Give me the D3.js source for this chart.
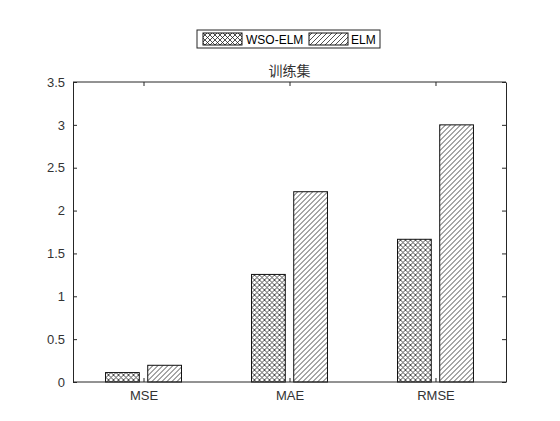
<!DOCTYPE html>
<html lang="zh">
<head>
  <meta charset="UTF-8">
  <script src="https://d3js.org/d3.v7.min.js"></script>
  <title>训练集</title>
  <style>
  body { margin:0; background:#fff; }
  svg { display:block; }
  .tick text { font-family: "Liberation Sans", Arial, sans-serif; font-size: 13px; fill:#333; }
  </style>
</head>
<body>
<svg id="chart" width="560" height="421"></svg>
<script>
  // data
  const categories = ["MSE", "MAE", "RMSE"];
  const seriesNames = ["WSO-ELM", "ELM"];
  const wsoElm = [0.11, 1.255, 1.665];
  const elm = [0.195, 2.22, 3.0];
  const yTicks = [0, 0.5, 1, 1.5, 2, 2.5, 3, 3.5];
  const title = "训练集";

  const svg = d3.select("svg#chart");
  const margin = {top: 82, right: 54, bottom: 39, left: 73};
  const width = +svg.attr("width");
  const height = +svg.attr("height");
  const x0 = margin.left, x1 = width - margin.right;
  const y0 = height - margin.bottom, y1 = margin.top;
  const ink = "#262626";

  // hatch patterns
  const defs = svg.append("defs");
  const cross = defs.append("pattern").attr("id","cross")
      .attr("patternUnits","userSpaceOnUse").attr("width",5).attr("height",5);
  cross.append("rect").attr("width",5).attr("height",5).attr("fill","#fff");
  cross.append("path").attr("d","M0,0L5,5M5,0L0,5M-1,4L1,6M4,-1L6,1M-1,1L1,-1M4,6L6,4")
      .attr("stroke","#222").attr("stroke-width",0.8);
  const diag = defs.append("pattern").attr("id","diag")
      .attr("patternUnits","userSpaceOnUse").attr("width",5).attr("height",5);
  diag.append("rect").attr("width",5).attr("height",5).attr("fill","#fff");
  diag.append("path").attr("d","M0,5L5,0M-1,1L1,-1M4,6L6,4")
      .attr("stroke","#222").attr("stroke-width",0.8);
  const fills = ["url(#cross)", "url(#diag)"];

  const x = d3.scalePoint().domain(categories).range([x0, x1]).padding(0.483);
  const xs = d3.scaleBand().domain(seriesNames).range([-42.2, 42.2])
      .paddingInner(0.2).paddingOuter(0.1);
  const y = d3.scaleLinear().domain([0, 3.5]).range([y0, y1]);

  const rows = categories.map((c, i) => ({cat: c, values: [wsoElm[i], elm[i]]}));

  // bars
  const groups = svg.append("g").selectAll("g.group")
      .data(rows).join("g")
      .attr("transform", d => `translate(${x(d.cat)},0)`);
  groups.selectAll("rect")
      .data(d => d.values.map((v, j) => ({name: seriesNames[j], v, j})))
      .join("rect")
      .attr("x", d => xs(d.name))
      .attr("width", xs.bandwidth())
      .attr("y", d => y(d.v))
      .attr("height", d => y(0) - y(d.v))
      .attr("fill", d => fills[d.j])
      .attr("stroke", "#111").attr("stroke-width", 1);

  // axes
  const tl = 4;
  svg.append("g").attr("transform", `translate(${x0},0)`)
      .call(d3.axisLeft(y).tickValues(yTicks).tickFormat(d => String(d))
        .tickSizeInner(-tl).tickSizeOuter(0).tickPadding(8))
      .call(g => g.select(".domain").attr("stroke", ink))
      .call(g => g.selectAll(".tick line").attr("stroke", ink));
  svg.append("g").attr("transform", `translate(${x1},0)`)
      .call(d3.axisRight(y).tickValues(yTicks).tickSizeInner(-tl).tickSizeOuter(0).tickFormat(""))
      .call(g => g.select(".domain").attr("stroke", ink))
      .call(g => g.selectAll(".tick line").attr("stroke", ink));
  svg.append("g").attr("transform", `translate(0,${y0})`)
      .call(d3.axisBottom(x).tickSizeInner(-tl).tickSizeOuter(0).tickPadding(9))
      .call(g => g.select(".domain").attr("stroke", ink).attr("d", `M${x0},0H${x1}`))
      .call(g => g.selectAll(".tick line").attr("stroke", ink));
  svg.append("g").attr("transform", `translate(0,${y1})`)
      .call(d3.axisTop(x).tickSizeInner(-tl).tickSizeOuter(0).tickFormat(""))
      .call(g => g.select(".domain").attr("stroke", ink).attr("d", `M${x0},0H${x1}`))
      .call(g => g.selectAll(".tick line").attr("stroke", ink));

  // title
  svg.append("text").attr("x", (x0 + x1) / 2).attr("y", 76)
      .attr("text-anchor", "middle")
      .style("font-family", "'Noto Sans CJK SC', sans-serif").style("font-size", "14px")
      .attr("fill", "#333").text(title);

  // legend
  const legend = svg.append("g");
  legend.append("rect").attr("x", 197).attr("y", 30).attr("width", 183).attr("height", 18)
      .attr("fill", "#fff").attr("stroke", ink);
  const items = [{sx: 203, tx: 246}, {sx: 309, tx: 351}];
  seriesNames.forEach((n, j) => {
    legend.append("rect").attr("x", items[j].sx).attr("y", 33).attr("width", 39).attr("height", 12)
        .attr("fill", fills[j]).attr("stroke", "#111");
    legend.append("text").attr("x", items[j].tx).attr("y", 43.5)
        .style("font-family", "'Liberation Sans', Arial, sans-serif").style("font-size", "12px")
        .attr("fill", "#000").text(n);
  });
</script>
</body>
</html>
